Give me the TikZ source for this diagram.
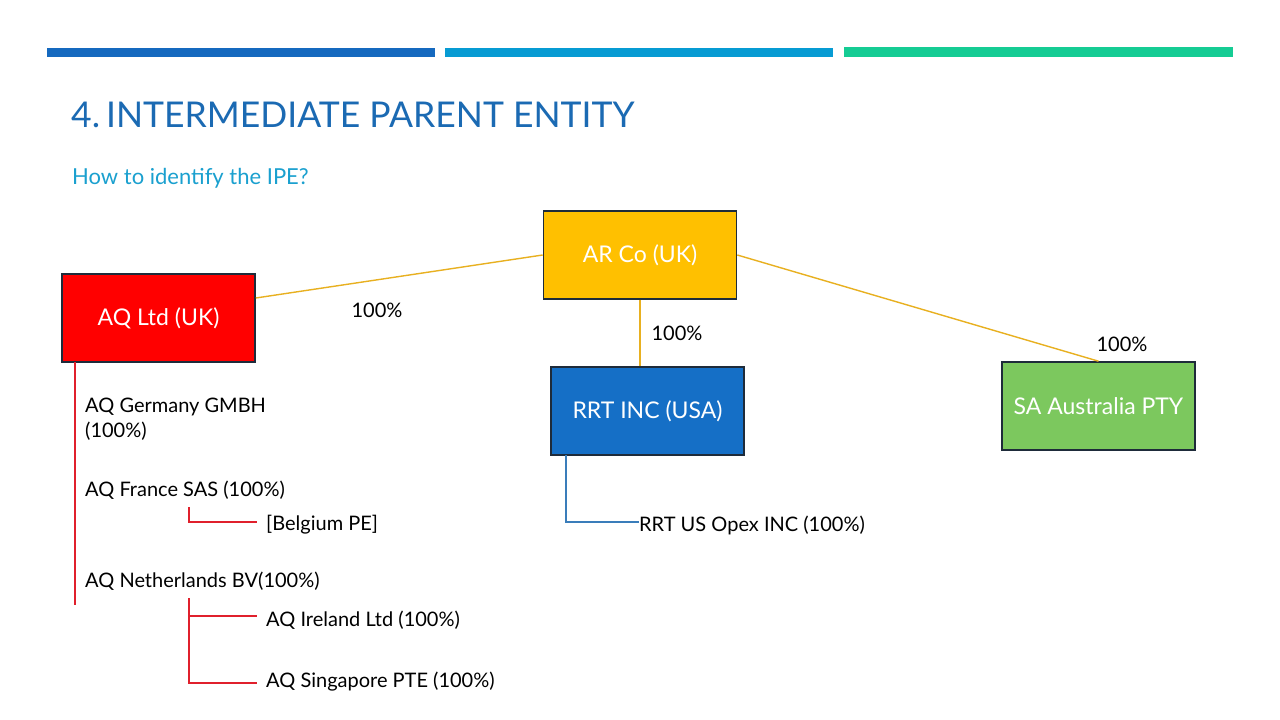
\documentclass[tikz,border=0pt]{standalone}
\usepackage{fontspec}
\setmainfont{Lato}
\definecolor{barA}{HTML}{1569BF}
\definecolor{barB}{HTML}{079BD3}
\definecolor{barC}{HTML}{15CC94}
\definecolor{titleblue}{HTML}{1B6AB3}
\definecolor{subblue}{HTML}{1AA0CF}
\definecolor{boxline}{HTML}{1E2B3A}
\definecolor{arfill}{HTML}{FFC000}
\definecolor{aqfill}{HTML}{FF0000}
\definecolor{rrtfill}{HTML}{156FC6}
\definecolor{safill}{HTML}{7CC85E}
\definecolor{yline}{HTML}{E8B020}
\definecolor{rline}{HTML}{E0202C}
\definecolor{bline}{HTML}{3A7DBA}
\begin{document}
\begin{tikzpicture}[x=1pt,y=-1pt,
  entity/.style={draw=boxline,line width=1.6pt,minimum width=193pt,minimum height=88pt,
    inner sep=0pt,text=white,font=\fontsize{23}{27}\selectfont},
  pct/.style={font=\fontsize{20}{24}\selectfont,inner sep=0pt},
  item/.style={font=\fontsize{20}{25}\selectfont,anchor=west,inner sep=0pt,align=left},
  own/.style={draw=yline,line width=1.4pt},
  redl/.style={draw=rline,line width=1.3pt},
  bluel/.style={draw=bline,line width=1.3pt}]
\useasboundingbox (0,0) rectangle (1280,720);
\fill[white] (0,0) rectangle (1280,720);
% header bars
\fill[barA] (47,48) rectangle (435,57);
\fill[barB] (445,48) rectangle (833,57);
\fill[barC] (844,47) rectangle (1233,57);
% title
\node[anchor=west,inner sep=0pt,text=titleblue,font=\fontsize{35.5}{40}\selectfont] (title) at (71,115) {4.\,INTERMEDIATE PARENT ENTITY};
\node[anchor=west,inner sep=0pt,text=subblue,font=\fontsize{22}{26}\selectfont] (sub) at (72,178) {How to identify the IPE?};
% entities
\node[entity,fill=arfill] (ar) at (640,255) {AR Co (UK)};
\node[entity,fill=aqfill] (aq) at (158.5,318) {AQ Ltd (UK)};
\node[entity,fill=rrtfill] (rrt) at (647.5,411) {RRT INC (USA)};
\node[entity,fill=safill] (sa) at (1098.5,406) {SA Australia PTY};
% ownership lines
\draw[own] (aq.east |- 0,298) -- (ar.west);
\draw[own] (ar.east) -- (sa.north);
\draw[own] (ar.south) -- (ar.south |- rrt.north);
\node[pct] (p1) at (377,310) {100\%};
\node[pct] (p2) at (677,333) {100\%};
\node[pct] (p3) at (1122,344) {100\%};
% AQ subsidiaries
\node[item] (de) at (85,419) {AQ Germany GMBH\\(100\%)};
\node[item] (fr) at (85,490) {AQ France SAS (100\%)};
\node[item] (be) at (266,525) {[Belgium PE]};
\node[item] (nl) at (85,581) {AQ Netherlands BV(100\%)};
\node[item] (ie) at (266,620) {AQ Ireland Ltd (100\%)};
\node[item] (sg) at (266,682) {AQ Singapore PTE (100\%)};
\coordinate (aqtop) at (75,362);
\coordinate (aqend) at (75,605);
\draw[redl] (aqtop) -- (aqend);
\coordinate (frb) at (189,507);
\coordinate (nlb) at (189,598);
\coordinate (bee) at ([xshift=-9pt,yshift=3pt]be.west);
\coordinate (iee) at ([xshift=-9pt,yshift=4pt]ie.west);
\coordinate (sge) at ([xshift=-9pt,yshift=-1pt]sg.west);
\draw[redl] (frb) |- (bee);
\draw[redl] (nlb) |- (sge);
\draw[redl] (nlb |- iee) -- (iee);
% RRT subsidiary
\node[item] (op) at (639,525) {RRT US Opex INC (100\%)};
\coordinate (rrtl) at (566,455);
\coordinate (ope) at ([yshift=3pt]op.west);
\draw[bluel] (rrtl) |- (ope);
\end{tikzpicture}
\end{document}
